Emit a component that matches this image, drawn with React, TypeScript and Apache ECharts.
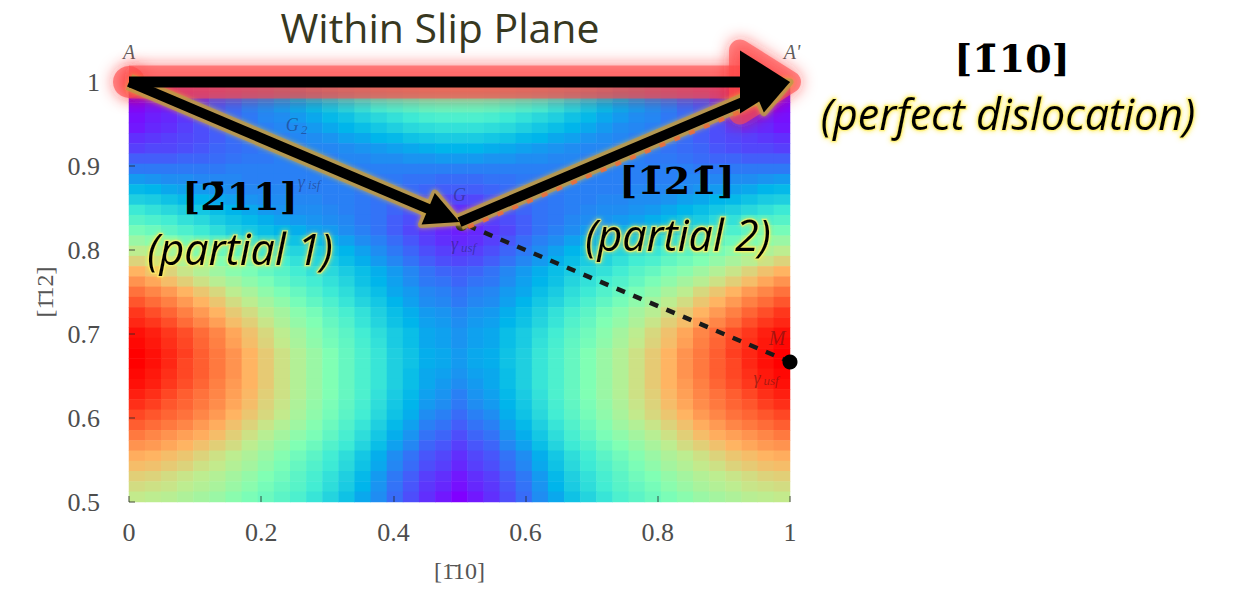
import React, { useEffect, useRef } from "react";
import * as echarts from "echarts";

// x positions along [-110] (0 .. 1, step 0.025) and y along [-112] (0.5 .. 1, step 0.0125)
const xCategories = Array.from({ length: 41 }, (_, i) => (i * 0.025).toFixed(3));
const yCategories = Array.from({ length: 41 }, (_, i) => (0.5 + i * 0.0125).toFixed(4));

// Normalised stacking-fault energy (0 = violet, 100 = red); rows from y = 1.0 (top) down to y = 0.5
const r1000 = [0,2,3,6,8,11,14,17,20,24,27,31,34,37,40,43,45,47,49,50,50,50,49,47,45,43,40,37,34,31,27,24,20,17,14,11,8,6,3,2,0];
const r0987 = [1,2,4,6,8,12,14,17,19,22,25,28,31,34,37,40,42,44,46,47,47,47,46,44,42,40,37,34,31,28,25,22,19,17,14,12,8,6,4,2,1];
const r0975 = [1,3,4,7,9,12,14,17,19,21,23,26,29,32,35,38,40,42,44,45,45,45,44,42,40,38,35,32,29,26,23,21,19,17,14,12,9,7,4,3,1];
const r0962 = [2,4,5,7,9,12,14,16,18,19,21,23,26,28,31,33,35,37,39,40,40,40,39,37,35,33,31,28,26,23,21,19,18,16,14,12,9,7,5,4,2];
const r0950 = [3,5,6,8,10,12,14,16,17,18,19,21,23,25,27,29,31,33,34,35,35,35,34,33,31,29,27,25,23,21,19,18,17,16,14,12,10,8,6,5,3];
const r0937 = [6,7,8,9,10,12,14,15,16,17,18,19,20,22,23,25,26,28,29,30,30,30,29,28,26,25,23,22,20,19,18,17,16,15,14,12,10,9,8,7,6];
const r0925 = [8,9,9,10,11,13,14,15,16,17,17,18,18,19,20,21,22,23,24,25,25,25,24,23,22,21,20,19,18,18,17,17,16,15,14,13,11,10,9,9,8];
const r0912 = [12,12,12,13,13,14,15,16,16,17,17,17,17,18,18,19,19,20,20,21,21,21,20,20,19,19,18,18,17,17,17,17,16,16,15,14,13,13,12,12,12];
const r0900 = [16,16,16,16,16,16,17,17,17,17,17,17,17,17,17,17,17,17,17,17,17,17,17,17,17,17,17,17,17,17,17,17,17,17,17,16,16,16,16,16,16];
const r0887 = [21,20,19,19,18,18,18,17,17,17,17,17,17,17,16,16,16,15,15,14,14,14,15,15,16,16,16,17,17,17,17,17,17,17,18,18,18,19,19,20,21];
const r0875 = [26,25,23,22,21,20,19,18,18,18,17,17,17,17,16,16,15,14,13,12,12,12,13,14,15,16,16,17,17,17,17,18,18,18,19,20,21,22,23,25,26];
const r0862 = [31,30,28,26,25,23,22,20,19,19,18,18,17,17,16,15,14,12,11,9,9,9,11,12,14,15,16,17,17,18,18,19,19,20,22,23,25,26,28,30,31];
const r0850 = [37,35,33,31,29,27,25,23,21,20,19,19,18,17,16,15,13,11,9,7,6,7,9,11,13,15,16,17,18,19,19,20,21,23,25,27,29,31,33,35,37];
const r0837 = [42,40,38,35,33,30,28,26,24,22,21,20,19,18,16,15,12,10,8,6,5,6,8,10,12,15,16,18,19,20,21,22,24,26,28,30,33,35,38,40,42];
const r0825 = [48,46,43,40,37,34,31,29,27,25,24,22,21,19,17,15,12,9,7,5,4,5,7,9,12,15,17,19,21,22,24,25,27,29,31,34,37,40,43,46,48];
const r0812 = [55,52,49,46,42,39,36,34,31,29,28,26,24,22,19,17,14,11,8,6,5,6,8,11,14,17,19,22,24,26,28,29,31,34,36,39,42,46,49,52,55];
const r0800 = [62,59,55,52,48,45,42,39,36,34,32,30,27,25,22,19,16,13,10,8,7,8,10,13,16,19,22,25,27,30,32,34,36,39,42,45,48,52,55,59,62];
const r0787 = [68,65,61,58,54,50,47,44,40,38,35,32,30,27,24,21,18,15,12,10,9,10,12,15,18,21,24,27,30,32,35,38,40,44,47,50,54,58,61,65,68];
const r0775 = [75,72,68,64,60,56,52,49,45,42,38,35,33,30,27,24,21,18,15,13,12,13,15,18,21,24,27,30,33,35,38,42,45,49,52,56,60,64,68,72,75];
const r0762 = [80,77,73,69,65,61,57,53,49,45,41,38,35,32,28,25,22,19,16,15,13,15,16,19,22,25,28,32,35,38,41,45,49,53,57,61,65,69,73,77,80];
const r0750 = [85,82,79,75,71,67,62,58,53,49,45,41,37,34,30,27,23,21,18,17,15,17,18,21,23,27,30,34,37,41,45,49,53,58,62,67,71,75,79,82,85];
const r0737 = [89,86,83,79,75,71,66,62,57,53,48,44,40,36,32,29,25,22,19,18,16,18,19,22,25,29,32,36,40,44,48,53,57,62,66,71,75,79,83,86,89];
const r0725 = [93,90,87,83,79,75,70,66,61,57,52,48,43,39,35,31,27,24,21,20,18,20,21,24,27,31,35,39,43,48,52,57,61,66,70,75,79,83,87,90,93];
const r0712 = [95,93,90,86,82,78,73,69,64,59,54,50,45,41,36,32,28,25,22,21,19,21,22,25,28,32,36,41,45,50,54,59,64,69,73,78,82,86,90,93,95];
const r0700 = [98,96,93,90,86,82,77,72,67,62,57,52,47,43,38,34,30,27,23,22,20,22,23,27,30,34,38,43,47,52,57,62,67,72,77,82,86,90,93,96,98];
const r0687 = [99,97,94,91,87,83,78,73,68,63,58,53,48,44,39,35,30,27,23,22,20,22,23,27,30,35,39,44,48,53,58,63,68,73,78,83,87,91,94,97,99];
const r0675 = [100,98,95,92,88,84,80,75,70,65,60,55,50,45,40,36,31,28,24,23,21,23,24,28,31,36,40,45,50,55,60,65,70,75,80,84,88,92,95,98,100];
const r0662 = [100,98,95,91,88,84,80,75,70,65,60,55,50,45,40,36,31,28,24,23,21,23,24,28,31,36,40,45,50,55,60,65,70,75,80,84,88,91,95,98,100];
const r0650 = [99,97,94,91,88,84,80,75,70,65,60,55,50,45,40,36,31,27,23,22,20,22,23,27,31,36,40,45,50,55,60,65,70,75,80,84,88,91,94,97,99];
const r0637 = [98,96,93,90,87,83,79,75,70,65,60,55,50,45,40,36,31,27,23,21,19,21,23,27,31,36,40,45,50,55,60,65,70,75,79,83,87,90,93,96,98];
const r0625 = [96,94,91,88,85,82,78,74,69,65,60,55,50,45,40,35,30,26,22,20,17,20,22,26,30,35,40,45,50,55,60,65,69,74,78,82,85,88,91,94,96];
const r0612 = [94,92,89,87,84,81,77,73,68,64,59,54,49,44,39,34,29,25,21,19,16,19,21,25,29,34,39,44,49,54,59,64,68,73,77,81,84,87,89,92,94];
const r0600 = [91,89,87,85,82,79,75,71,67,63,58,53,48,43,38,33,28,24,19,17,14,17,19,24,28,33,38,43,48,53,58,63,67,71,75,79,82,85,87,89,91];
const r0587 = [88,86,84,82,79,76,72,68,64,60,56,51,46,41,36,31,26,22,17,15,12,15,17,22,26,31,36,41,46,51,56,60,64,68,72,76,79,82,84,86,88];
const r0575 = [84,82,80,78,76,73,69,65,61,57,53,49,44,39,34,29,24,20,15,13,10,13,15,20,24,29,34,39,44,49,53,57,61,65,69,73,76,78,80,82,84];
const r0562 = [80,79,77,75,72,69,66,62,58,54,50,46,41,37,32,27,22,18,13,11,8,11,13,18,22,27,32,37,41,46,50,54,58,62,66,69,72,75,77,79,80];
const r0550 = [76,75,73,71,68,65,62,59,55,51,47,43,38,34,29,24,19,15,11,9,6,9,11,15,19,24,29,34,38,43,47,51,55,59,62,65,68,71,73,75,76];
const r0537 = [73,72,70,68,65,63,60,57,53,49,45,41,37,33,28,23,18,14,10,8,5,8,10,14,18,23,28,33,37,41,45,49,53,57,60,63,65,68,70,72,73];
const r0525 = [69,68,66,64,62,60,57,54,50,47,43,39,35,31,26,21,16,12,8,6,3,6,8,12,16,21,26,31,35,39,43,47,50,54,57,60,62,64,66,68,69];
const r0512 = [66,65,64,62,60,58,55,52,48,45,42,38,34,30,25,20,15,11,7,5,2,5,7,11,15,20,25,30,34,38,42,45,48,52,55,58,60,62,64,65,66];
const r0500 = [63,62,61,59,57,55,52,49,46,43,40,36,32,28,23,19,14,10,6,3,0,3,6,10,14,19,23,28,32,36,40,43,46,49,52,55,57,59,61,62,63];

const energyRows = [
  r1000, r0987, r0975, r0962, r0950, r0937, r0925, r0912, r0900, r0887, r0875,
  r0862, r0850, r0837, r0825, r0812, r0800, r0787, r0775, r0762, r0750,
  r0737, r0725, r0712, r0700, r0687, r0675, r0662, r0650, r0637, r0625,
  r0612, r0600, r0587, r0575, r0562, r0550, r0537, r0525, r0512, r0500,
];

// special points of the gamma surface (x along [-110], y along [-112])
const pointA = [0, 1];
const pointA2 = [1, 1];
const pointG = [0.5, 0.8333];
const pointG2 = [0.25, 0.9167];
const pointM = [1, 0.6667];

const rainbowColors = ["#8000ff", "#4062fa", "#00b5eb", "#40ecd4", "#80ffb4", "#c0ec8e", "#ffb462", "#ff6232", "#ff0000"];

type Pt = number[];

function arrowParts(p0: Pt, p1: Pt, w: number, headLen: number, headW: number, glowColor: string, glowExtra: number, glowBlur: number, shadowColor: string) {
  const dx = p1[0] - p0[0];
  const dy = p1[1] - p0[1];
  const L = Math.hypot(dx, dy);
  const ux = dx / L, uy = dy / L;
  const nx = -uy, ny = ux;
  const base = [p1[0] - ux * headLen, p1[1] - uy * headLen];
  const c1 = [base[0] + (nx * headW) / 2, base[1] + (ny * headW) / 2];
  const c2 = [base[0] - (nx * headW) / 2, base[1] - (ny * headW) / 2];
  const lineEnd = [base[0] + ux * 2, base[1] + uy * 2];
  const h = (w + glowExtra) / 2;
  const glowBody = [
    [p0[0] + nx * h, p0[1] + ny * h],
    [lineEnd[0] + nx * h, lineEnd[1] + ny * h],
    [lineEnd[0] - nx * h, lineEnd[1] - ny * h],
    [p0[0] - nx * h, p0[1] - ny * h],
  ];
  const glow = [
    {
      type: "polygon",
      z: 50,
      silent: true,
      shape: { points: glowBody },
      style: { fill: glowColor, shadowBlur: glowBlur, shadowColor },
    },
    {
      type: "polygon",
      z: 50,
      silent: true,
      shape: { points: [p1, c1, c2] },
      style: { fill: glowColor, stroke: glowColor, lineWidth: glowExtra, lineJoin: "round", shadowBlur: glowBlur, shadowColor },
    },
  ];
  const body = [
    {
      type: "polygon",
      z: 60,
      silent: true,
      shape: {
        points: [
          [p0[0] + (nx * w) / 2, p0[1] + (ny * w) / 2],
          [lineEnd[0] + (nx * w) / 2, lineEnd[1] + (ny * w) / 2],
          [lineEnd[0] - (nx * w) / 2, lineEnd[1] - (ny * w) / 2],
          [p0[0] - (nx * w) / 2, p0[1] - (ny * w) / 2],
        ],
      },
      style: { fill: "#000" },
    },
    {
      type: "polygon",
      z: 60,
      silent: true,
      shape: { points: [p1, c1, c2] },
      style: { fill: "#000" },
    },
  ];
  return { glow, body };
}

export default function App() {
  const ref = useRef<HTMLDivElement>(null);

  useEffect(() => {
    document.body.style.margin = "0";
    document.body.style.overflow = "hidden";
    const chart = echarts.init(ref.current!, null, { renderer: "svg" });

    const heatData: number[][] = [];
    energyRows.forEach((row, r) => {
      row.forEach((v, c) => heatData.push([c, energyRows.length - 1 - r, v]));
    });

    const tickLabel = { fontFamily: "Liberation Serif", fontSize: 26, color: "#4d4d4d" };

    chart.setOption({
      animation: false,
      grid: { left: 129, top: 82, width: 661, height: 420, containLabel: false },
      xAxis: [
        { type: "category", data: xCategories, show: false, position: "top" },
        {
          type: "value",
          min: 0,
          max: 1,
          interval: 0.2,
          position: "bottom",
          z: 5,
          axisLine: { show: false },
          axisTick: { inside: true, length: 6, lineStyle: { color: "rgba(40,40,40,0.55)", width: 1.5 } },
          splitLine: { show: false },
          axisLabel: { margin: 17, ...tickLabel },
          name: "[1\u030410]",
          nameLocation: "middle",
          nameGap: 57,
          nameTextStyle: { fontFamily: "Liberation Serif", fontSize: 24, color: "#555" },
        },
      ],
      yAxis: [
        { type: "category", data: yCategories, show: false, position: "right" },
        {
          type: "value",
          min: 0.5,
          max: 1,
          interval: 0.1,
          position: "left",
          z: 5,
          axisLine: { show: false },
          axisTick: { inside: true, length: 6, lineStyle: { color: "rgba(40,40,40,0.55)", width: 1.5 } },
          splitLine: { show: false },
          axisLabel: { margin: 29, ...tickLabel },
          name: "[1\u030412]",
          nameLocation: "middle",
          nameGap: 72,
          nameTextStyle: { fontFamily: "Liberation Serif", fontSize: 24, color: "#555" },
        },
      ],
      visualMap: {
        show: false,
        type: "continuous",
        min: 0,
        max: 100,
        dimension: 2,
        seriesIndex: 0,
        inRange: { color: rainbowColors },
      },
      series: [
        {
          type: "heatmap",
          xAxisIndex: 0,
          yAxisIndex: 0,
          data: heatData,
          itemStyle: { borderWidth: 0 },
          emphasis: { disabled: true },
          progressive: 0,
        },
      ],
    });

    const px = (p: number[]): Pt => [
      chart.convertToPixel({ xAxisIndex: 1 }, p[0]) as unknown as number,
      chart.convertToPixel({ yAxisIndex: 1 }, p[1]) as unknown as number,
    ];

    const A = px(pointA);
    const A2 = px(pointA2);
    const G = px(pointG);
    const G2 = px(pointG2);
    const M = px(pointM);

    const perfect = arrowParts(A, A2, 11, 50, 63, "rgba(255,75,75,0.6)", 22, 16, "rgba(255,30,30,0.95)");
    const partial1 = arrowParts(A, G, 10, 34, 34, "rgba(185,150,70,0.8)", 7, 5, "rgba(235,185,40,0.9)");
    const partial2 = arrowParts(G, A2, 10, 36, 36, "rgba(185,150,70,0.8)", 7, 5, "rgba(235,185,40,0.9)");

    // dotted orange path G -> A' (just below the black arrow)
    const gdx = A2[0] - G[0], gdy = A2[1] - G[1];
    const gl = Math.hypot(gdx, gdy);
    const gux = gdx / gl, guy = gdy / gl;
    const off = [-guy * 8, gux * 8];
    const dotStart = [G[0] + off[0] + gux * 6, G[1] + off[1] + guy * 6];
    const dotEnd = [G[0] + off[0] + gdx * 0.84, G[1] + off[1] + gdy * 0.84];

    const labelColor = "rgba(30,30,80,0.45)";
    const smallLabel = (text: string, x: number, y: number, size = 18, color = labelColor) => ({
      type: "text",
      z: 40,
      silent: true,
      x,
      y,
      style: {
        text,
        fontFamily: "Liberation Serif",
        fontStyle: "italic",
        fontSize: size,
        fill: color,
        align: "center",
        verticalAlign: "middle",
      },
    });

    const bigText = (text: string, x: number, y: number, opts: any) => ({
      type: "text",
      z: 80,
      silent: true,
      x,
      y,
      style: { text, align: "center", verticalAlign: "middle", ...opts },
    });

    const bracketStyle = { fontFamily: "DejaVu Serif", fontWeight: "bold", fontSize: 38, fill: "#000" };
    const italicStyle = {
      fontFamily: "Open Sans",
      fontStyle: "italic",
      fontSize: 43,
      fill: "#000",
      stroke: "rgba(255,240,110,0.7)",
      lineWidth: 2.5,
      textShadowColor: "rgba(255,235,60,0.9)",
      textShadowBlur: 5,
    };

    const elements: any[] = [
      // glows
      ...perfect.glow,
      {
        type: "circle",
        z: 49,
        silent: true,
        shape: { cx: A[0], cy: A[1], r: 16 },
        style: { fill: "rgba(255,75,75,0.6)", shadowBlur: 16, shadowColor: "rgba(255,30,30,0.95)" },
      },
      ...partial1.glow,
      ...partial2.glow,
      // dotted & dashed paths
      {
        type: "line",
        z: 55,
        silent: true,
        shape: { x1: dotStart[0], y1: dotStart[1], x2: dotEnd[0], y2: dotEnd[1] },
        style: { stroke: "rgba(235,110,60,0.9)", lineWidth: 4, lineDash: [6, 10] },
      },
      {
        type: "line",
        z: 45,
        silent: true,
        shape: { x1: G[0] + 8, y1: G[1] + 3.4, x2: M[0], y2: M[1] },
        style: { stroke: "#1a1a1a", lineWidth: 4.5, lineDash: [9, 9] },
      },
      // point markers
      { type: "circle", z: 46, silent: true, shape: { cx: G2[0], cy: G2[1], r: 6 }, style: { fill: "rgba(170,130,30,0.85)" } },
      { type: "circle", z: 46, silent: true, shape: { cx: G[0] + 2, cy: G[1] + 3, r: 6 }, style: { fill: "#222" } },
      { type: "circle", z: 46, silent: true, shape: { cx: M[0], cy: M[1], r: 7.5 }, style: { fill: "#000" } },
      // small labels from the original plot
      smallLabel("A", A[0], A[1] - 30, 20, "rgba(40,40,40,0.75)"),
      smallLabel("A'", A2[0] + 2, A2[1] - 30, 20, "rgba(40,40,40,0.75)"),
      smallLabel("G", G2[0] - 2, G2[1] - 27),
      smallLabel("2", G2[0] + 10, G2[1] - 22, 13),
      smallLabel("γ", G2[0] + 7, G2[1] + 30),
      smallLabel("isf", G2[0] + 20, G2[1] + 33, 13),
      smallLabel("G", G[0], G[1] - 27),
      smallLabel("γ", G[0] - 5, G[1] + 22),
      smallLabel("usf", G[0] + 9, G[1] + 25, 13),
      smallLabel("M", M[0] - 13, M[1] - 24, 20, "rgba(90,20,20,0.55)"),
      smallLabel("γ", M[0] - 33, M[1] + 16, 18, "rgba(90,20,20,0.55)"),
      smallLabel("usf", M[0] - 19, M[1] + 19, 13, "rgba(90,20,20,0.55)"),
      // arrow bodies
      ...perfect.body,
      ...partial1.body,
      ...partial2.body,
      // annotations
      bigText("Within Slip Plane", 440, 27, { fontFamily: "Open Sans", fontSize: 41, fill: "#38381f" }),
      bigText("[1\u030410]", 1012, 58, bracketStyle),
      bigText("(perfect dislocation)", 1008, 113, italicStyle),
      bigText("[2\u030411]", 240, 196, bracketStyle),
      bigText("(partial 1)", 240, 248, italicStyle),
      bigText("[1\u030421\u0304]", 677, 180, bracketStyle),
      bigText("(partial 2)", 678, 234, italicStyle),
    ];

    chart.setOption({ graphic: { elements } });

    return () => {
      chart.dispose();
    };
  }, []);

  return <div ref={ref} style={{ width: 1233, height: 592 }} />;
}
